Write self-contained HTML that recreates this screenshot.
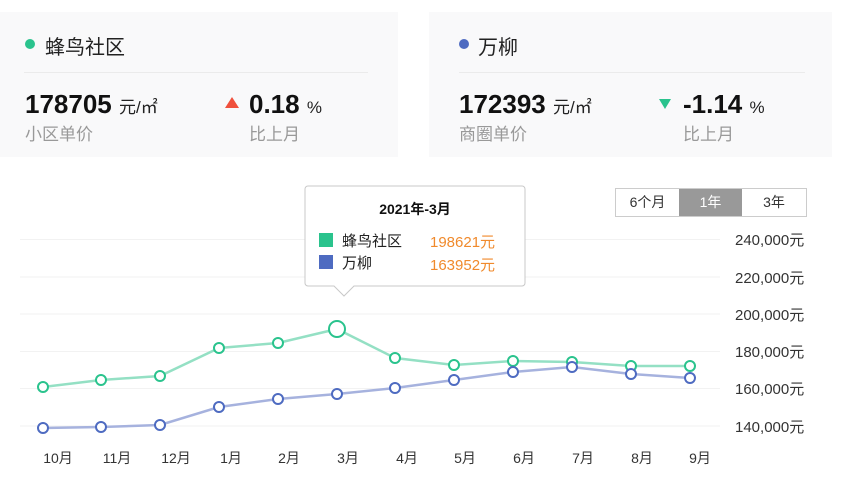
<!DOCTYPE html>
<html><head><meta charset="utf-8"><style>
body{margin:0;width:854px;height:492px;background:#fff;position:relative;overflow:hidden;font-family:"Liberation Sans","Noto Sans CJK SC",sans-serif;}
.card{position:absolute;top:12px;height:145px;background:#f9f9fa;}
.a{position:absolute;white-space:nowrap;}
.dot{position:absolute;width:10px;height:10px;border-radius:50%;}
.hr{position:absolute;height:1px;background:#ebebeb;}
.big{font-size:26px;font-weight:bold;color:#111;}
.unit{font-size:17px;color:#222;font-weight:normal;}
.sub{font-size:17px;color:#999;}
.t{font-size:20px;color:#222;}
</style></head><body>
<div class="card" style="left:0;width:398px"></div>
<div class="card" style="left:429px;width:403px"></div>
<div class="dot" style="left:25px;top:39px;background:#2ac38d"></div>
<div class="a t" style="left:45px;top:31px">蜂鸟社区</div>
<div class="hr" style="left:24px;top:72px;width:344px"></div>
<div class="a big" style="left:25px;top:89px">178705 <span class="unit">元/㎡</span></div>
<div class="a sub" style="left:25px;top:120px">小区单价</div>
<div class="a" style="left:225px;top:97px;width:0;height:0;border-left:7px solid transparent;border-right:7px solid transparent;border-bottom:11px solid #f0503c"></div>
<div class="a big" style="left:249px;top:89px">0.18 <span class="unit">%</span></div>
<div class="a sub" style="left:249px;top:120px">比上月</div>

<div class="dot" style="left:459px;top:39px;background:#4e6bc1"></div>
<div class="a t" style="left:478px;top:31px">万柳</div>
<div class="hr" style="left:459px;top:72px;width:346px"></div>
<div class="a big" style="left:459px;top:89px">172393 <span class="unit">元/㎡</span></div>
<div class="a sub" style="left:459px;top:120px">商圈单价</div>
<div class="a" style="left:659px;top:99px;width:0;height:0;border-left:6px solid transparent;border-right:6px solid transparent;border-top:10px solid #2ac38d"></div>
<div class="a big" style="left:683px;top:89px">-1.14 <span class="unit">%</span></div>
<div class="a sub" style="left:683px;top:120px">比上月</div>

<div class="a" style="left:615px;top:188px;width:190px;height:27px;border:1px solid #ccc;font-size:14px;color:#333;display:flex">
<div style="width:63px;text-align:center;line-height:27px">6个月</div>
<div style="width:63px;text-align:center;line-height:27px;background:#999;color:#fff">1年</div>
<div style="width:64px;text-align:center;line-height:27px">3年</div>
</div>

<svg class="a" style="left:0;top:0" width="854" height="492">
<g stroke="#f2f2f2" stroke-width="1">
<line x1="20" x2="720" y1="239.5" y2="239.5"/><line x1="20" x2="720" y1="277" y2="277"/>
<line x1="20" x2="720" y1="314" y2="314"/><line x1="20" x2="720" y1="351.5" y2="351.5"/>
<line x1="20" x2="720" y1="388.5" y2="388.5"/><line x1="20" x2="720" y1="426" y2="426"/>
</g>
<g font-size="15" fill="#333" font-family="Liberation Sans,Noto Sans CJK SC,sans-serif">
<text x="735" y="245">240,000元</text><text x="735" y="283">220,000元</text>
<text x="735" y="320">200,000元</text><text x="735" y="357">180,000元</text>
<text x="735" y="394">160,000元</text><text x="735" y="432">140,000元</text>
<g text-anchor="middle" font-size="14">
<text x="58" y="463">10月</text><text x="117" y="463">11月</text><text x="176" y="463">12月</text>
<text x="231" y="463">1月</text><text x="289" y="463">2月</text><text x="348" y="463">3月</text>
<text x="407" y="463">4月</text><text x="465" y="463">5月</text><text x="524" y="463">6月</text>
<text x="583" y="463">7月</text><text x="642" y="463">8月</text><text x="700" y="463">9月</text>
</g></g>
<polyline fill="none" stroke="#94e0c4" stroke-width="2.5" points="43,387 101,380 160,376 219,348 278,343 337,329 395,358 454,365 513,361 572,362 631,366 690,366"/>
<polyline fill="none" stroke="#a6b2de" stroke-width="2.5" points="43,428 101,427 160,425 219,407 278,399 337,394 395,388 454,380 513,372 572,367 631,374 690,378"/>
<g fill="#fff" stroke="#2ac38d" stroke-width="2">
<circle cx="43" cy="387" r="5"/><circle cx="101" cy="380" r="5"/><circle cx="160" cy="376" r="5"/><circle cx="219" cy="348" r="5"/><circle cx="278" cy="343" r="5"/><circle cx="337" cy="329" r="8"/><circle cx="395" cy="358" r="5"/><circle cx="454" cy="365" r="5"/><circle cx="513" cy="361" r="5"/><circle cx="572" cy="362" r="5"/><circle cx="631" cy="366" r="5"/><circle cx="690" cy="366" r="5"/>
</g>
<g fill="#fff" stroke="#4e6bc1" stroke-width="2">
<circle cx="43" cy="428" r="5"/><circle cx="101" cy="427" r="5"/><circle cx="160" cy="425" r="5"/><circle cx="219" cy="407" r="5"/><circle cx="278" cy="399" r="5"/><circle cx="337" cy="394" r="5"/><circle cx="395" cy="388" r="5"/><circle cx="454" cy="380" r="5"/><circle cx="513" cy="372" r="5"/><circle cx="572" cy="367" r="5"/><circle cx="631" cy="374" r="5"/><circle cx="690" cy="378" r="5"/>
</g>
<path d="M308,186 H522 a3,3 0 0 1 3,3 V283 a3,3 0 0 1 -3,3 H354 L344,296 L334,286 H308 a3,3 0 0 1 -3,-3 V189 a3,3 0 0 1 3,-3 Z" fill="#fff" stroke="#c8c8c8"/>
<g font-family="Liberation Sans,Noto Sans CJK SC,sans-serif">
<text x="415" y="214" text-anchor="middle" font-size="14" font-weight="bold" fill="#111">2021年-3月</text>
<rect x="319" y="233" width="14" height="14" fill="#2ac38d"/>
<rect x="319" y="255" width="14" height="14" fill="#4e6bc1"/>
<text x="342" y="246" font-size="15" fill="#222">蜂鸟社区</text>
<text x="342" y="268" font-size="15" fill="#222">万柳</text>
<text x="430" y="247" font-size="15" fill="#f08a2c">198621元</text>
<text x="430" y="270" font-size="15" fill="#f08a2c">163952元</text>
</g>
</svg>
</body></html>
